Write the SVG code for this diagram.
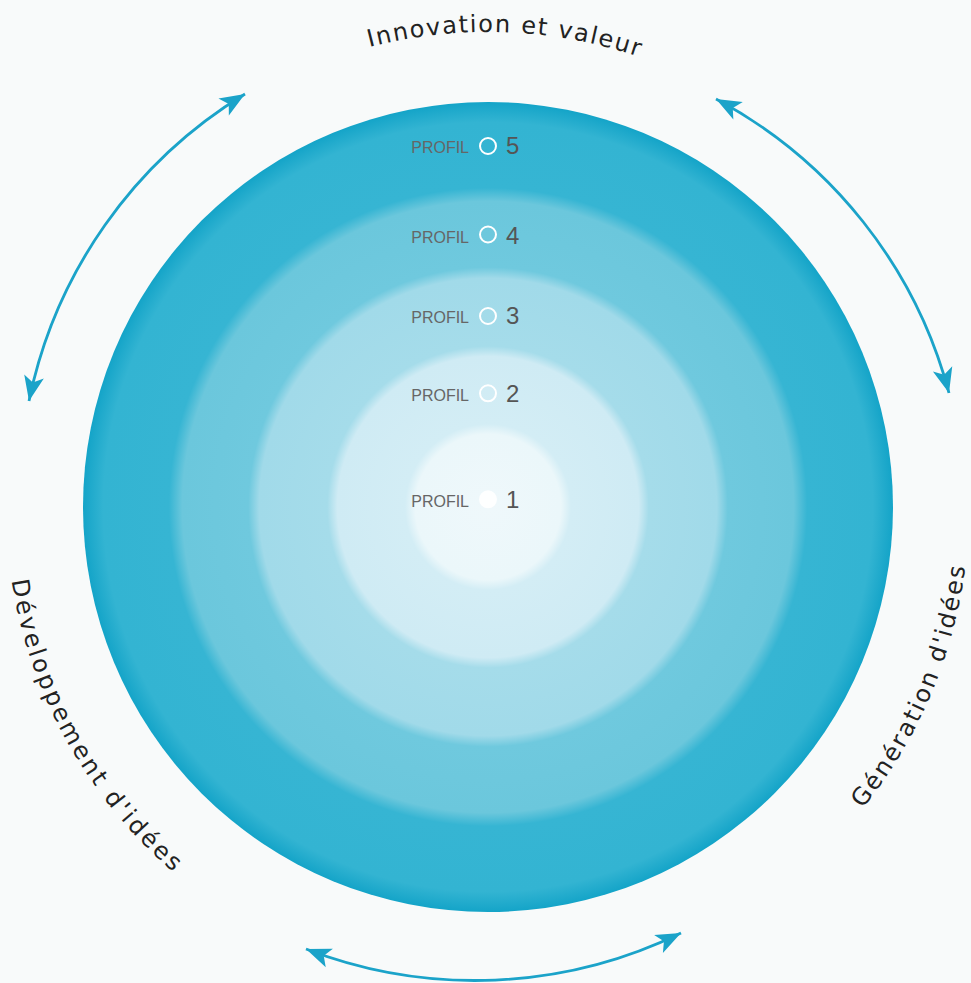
<svg xmlns="http://www.w3.org/2000/svg" width="971" height="983" viewBox="0 0 971 983">
<style>
.lbl{font-family:"DejaVu Sans","Liberation Sans",Arial,sans-serif;font-size:24px;fill:#222}
.pf{font-family:"Liberation Sans",Arial,sans-serif;font-size:16px;fill:#666;text-anchor:end}
.num{font-family:"Liberation Sans",Arial,sans-serif;font-size:24px;fill:#555}
.dot{fill:none;stroke:#fff;stroke-width:2}
.arr{fill:none;stroke:#1ba3c9;stroke-width:2.8;marker-start:url(#head);marker-end:url(#head)}
</style>
<defs>
<radialGradient id="rings" cx="488" cy="507" r="405" gradientUnits="userSpaceOnUse">
<stop offset="0" stop-color="#eff8fb"/>
<stop offset="0.180" stop-color="#ebf7fa"/>
<stop offset="0.205" stop-color="#d3edf5"/>
<stop offset="0.372" stop-color="#cfebf4"/>
<stop offset="0.397" stop-color="#a5dcea"/>
<stop offset="0.565" stop-color="#a1dae9"/>
<stop offset="0.592" stop-color="#6fc9de"/>
<stop offset="0.755" stop-color="#6bc7dc"/>
<stop offset="0.788" stop-color="#36b5d3"/>
<stop offset="0.950" stop-color="#33b4d2"/>
<stop offset="1" stop-color="#14a4c8"/>
</radialGradient>
<marker id="head" markerUnits="userSpaceOnUse" markerWidth="30" markerHeight="26" viewBox="-27 -13 29 26" refX="0" refY="0" orient="auto-start-reverse">
<path d="M0,0 L-25,-10 L-19,0 L-25,10 Z" fill="#1ba3c9"/>
</marker>
<path id="pTop" d="M265,87.6 A475,475 0 0,1 739.7,104.2"/>
<path id="pLeft" d="M6,507 A482,482 0 0,0 232.6,915.7"/>
<path id="pRight" d="M834,841 A481,481 0 0,0 968.7,523.8"/>
</defs>
<rect width="971" height="983" fill="#f8fafa"/>
<g id="disc">
<circle cx="488" cy="507" r="405" fill="url(#rings)"/>
</g>
<g id="profil5"><text class="pf" x="469" y="153">PROFIL</text><circle class="dot" cx="488" cy="146" r="8"/><text class="num" x="506" y="154">5</text></g>
<g id="profil4"><text class="pf" x="469" y="243.3">PROFIL</text><circle class="dot" cx="488" cy="234.5" r="8"/><text class="num" x="506" y="244.3">4</text></g>
<g id="profil3"><text class="pf" x="469" y="323.3">PROFIL</text><circle class="dot" cx="488" cy="316" r="8"/><text class="num" x="506" y="324.3">3</text></g>
<g id="profil2"><text class="pf" x="469" y="400.7">PROFIL</text><circle class="dot" cx="488" cy="393.3" r="8"/><text class="num" x="506" y="401.7">2</text></g>
<g id="profil1"><text class="pf" x="469" y="507.3">PROFIL</text><circle cx="488" cy="499.3" r="9" fill="#fff" opacity="0.9"/><text class="num" x="506" y="508.3">1</text></g>
<g id="connectors">
<path class="arr" d="M29,401 A470,470 0 0,1 245,94"/>
<path class="arr" d="M716,99 A470,470 0 0,1 949,393"/>
<path class="arr" d="M306,949 A470,470 0 0,0 681,933"/>
</g>
<g id="labels">
<text class="lbl"><textPath href="#pTop" startOffset="50%" text-anchor="middle" textLength="273" lengthAdjust="spacing">Innovation et valeur</textPath></text>
<text class="lbl"><textPath href="#pLeft" startOffset="50%" text-anchor="middle" textLength="340" lengthAdjust="spacing">Développement d'idées</textPath></text>
<text class="lbl"><textPath href="#pRight" startOffset="50%" text-anchor="middle" textLength="266" lengthAdjust="spacing">Génération d'idées</textPath></text>
</g>
</svg>
